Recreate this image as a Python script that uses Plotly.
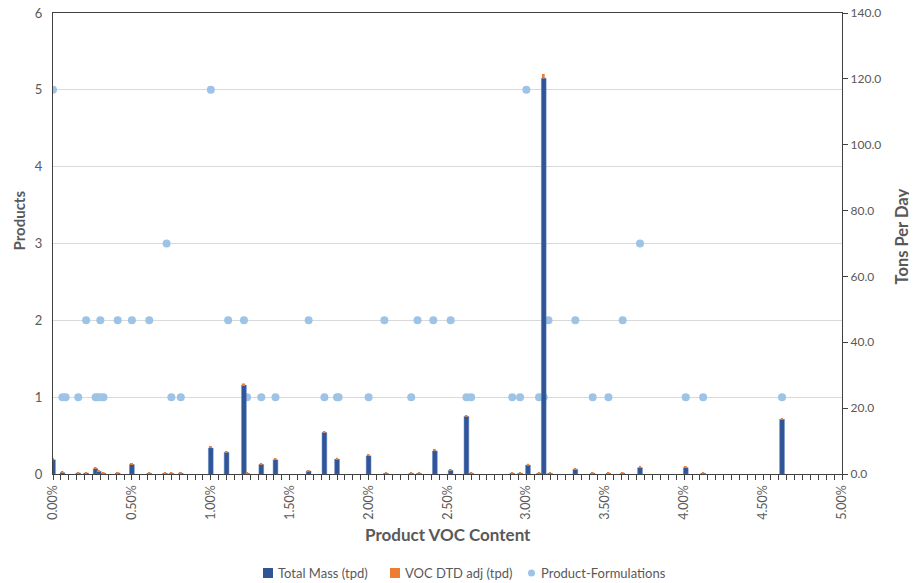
import plotly.graph_objects as go
from plotly.subplots import make_subplots

# Bar data: VOC content (%) and tons per day
bar_x = [0.00, 0.06, 0.16, 0.21, 0.27, 0.29, 0.32, 0.41, 0.50, 0.61, 0.71, 0.75, 0.81,
         1.00, 1.10, 1.21, 1.23, 1.32, 1.41, 1.62, 1.72, 1.80, 2.00, 2.11, 2.27, 2.32,
         2.42, 2.52, 2.62, 2.65, 2.91, 2.96, 3.01, 3.08, 3.11, 3.15, 3.31, 3.42, 3.52,
         3.61, 3.72, 4.01, 4.12, 4.62]
total_mass = [4.3, 0.4, 0.3, 0.3, 1.6, 0.8, 0.2, 0.3, 2.9, 0.2, 0.2, 0.2, 0.2,
              7.9, 6.6, 27.0, 0.2, 2.9, 4.3, 0.9, 12.6, 4.5, 5.5, 0.2, 0.2, 0.2,
              7.0, 1.1, 17.5, 0.2, 0.2, 0.2, 2.7, 0.2, 120.2, 0.2, 1.4, 0.2, 0.2,
              0.2, 1.9, 1.9, 0.2, 16.6]
voc_dtd = [0.3, 0.3, 0.3, 0.3, 0.4, 0.3, 0.3, 0.3, 0.4, 0.3, 0.3, 0.3, 0.3,
           0.4, 0.4, 0.5, 0.2, 0.4, 0.4, 0.3, 0.4, 0.4, 0.4, 0.3, 0.3, 0.3,
           0.4, 0.3, 0.4, 0.3, 0.3, 0.3, 0.4, 0.3, 1.3, 0.3, 0.4, 0.3, 0.3,
           0.3, 0.4, 0.4, 0.3, 0.4]

# Scatter data: product formulations count by VOC content (%)
pf_x = [0.00, 1.00, 3.00,
        0.72, 3.72,
        0.21, 0.30, 0.41, 0.50, 0.61, 1.11, 1.21, 1.62, 2.10, 2.31, 2.41, 2.52, 3.14, 3.31, 3.61,
        0.06, 0.08, 0.16, 0.27, 0.28, 0.30, 0.32, 0.75, 0.81, 1.23, 1.32, 1.41, 1.72, 1.80,
        1.81, 2.00, 2.27, 2.62, 2.65, 2.91, 2.96, 3.08, 3.11, 3.42, 3.52, 4.01, 4.12, 4.62]
pf_y = [5, 5, 5,
        3, 3,
        2, 2, 2, 2, 2, 2, 2, 2, 2, 2, 2, 2, 2, 2, 2,
        1, 1, 1, 1, 1, 1, 1, 1, 1, 1, 1, 1, 1, 1,
        1, 1, 1, 1, 1, 1, 1, 1, 1, 1, 1, 1, 1, 1]

x_ticks = [0.0, 0.5, 1.0, 1.5, 2.0, 2.5, 3.0, 3.5, 4.0, 4.5, 5.0]
left_ticks = [0, 1, 2, 3, 4, 5, 6]
right_ticks = [0, 20, 40, 60, 80, 100, 120, 140]

FONT = "Lato"
GRAY = "#595959"
AXIS = "#404040"
BLUE = "#2F5597"
ORANGE = "#ED7D31"
LIGHT = "#9DC3E6"

fig = make_subplots(specs=[[{"secondary_y": True}]])

fig.add_trace(go.Scatter(
    x=pf_x, y=pf_y, mode="markers", name="Product-Formulations",
    marker=dict(color=LIGHT, size=8),
), secondary_y=False)

fig.add_trace(go.Bar(
    x=bar_x, y=total_mass, name="Total Mass (tpd)", width=0.03,
    marker=dict(color=BLUE, line=dict(color="#5B7FC0", width=0.5)),
), secondary_y=True)

fig.add_trace(go.Bar(
    x=bar_x, y=voc_dtd, base=total_mass, name="VOC DTD adj (tpd)", width=0.012,
    marker=dict(color=ORANGE, line=dict(width=0)),
), secondary_y=True)

fig.update_layout(
    width=917, height=583,
    margin=dict(l=45, r=83, t=5, b=117, autoexpand=False),
    paper_bgcolor="white", plot_bgcolor="white",
    barmode="overlay",
    font=dict(family=FONT, color=GRAY, size=13),
    showlegend=False,
)

fig.update_xaxes(
    domain=[0, 1],
    range=[0, 5], tickvals=x_ticks, ticktext=[f"{v:.2f}%" for v in x_ticks],
    tickangle=-90, ticks="outside", ticklen=5, tickcolor=AXIS,
    minor=dict(dtick=0.05, ticks="outside", ticklen=5, tickcolor=AXIS, showgrid=False),
    showline=True, linecolor=AXIS, linewidth=1.3, mirror=True,
    showgrid=False, zeroline=False, automargin=False,
    tickfont=dict(size=12.5, color=GRAY), ticklabeloverflow="allow",
)

fig.update_yaxes(
    range=[0, 6], tickvals=left_ticks, ticks="outside", ticklen=7,
    tickcolor="rgba(0,0,0,0)", showline=True, linecolor=AXIS, linewidth=1.3,
    showgrid=True, gridcolor="#D9D9D9", gridwidth=1, zeroline=False, automargin=False,
    tickfont=dict(size=13, color=GRAY), ticklabeloverflow="allow",
    secondary_y=False,
)

fig.update_yaxes(
    range=[0, 140], tickvals=right_ticks, tickformat=".1f", ticks="outside", ticklen=5,
    tickcolor=AXIS, showline=True, linecolor=AXIS, linewidth=1.3,
    showgrid=False, zeroline=False, automargin=False,
    tickfont=dict(size=12, color=GRAY), ticklabeloverflow="allow",
    secondary_y=True,
)

fig.add_annotation(text="<b>Product VOC Content</b>", xref="paper", yref="paper",
                   x=0.5, y=0, yshift=-60, xanchor="center", yanchor="middle",
                   showarrow=False, font=dict(family=FONT, size=17, color=GRAY))
fig.add_annotation(text="<b>Products</b>", xref="paper", yref="paper",
                   x=0, y=0.5, xshift=-35, yshift=23, xanchor="center", yanchor="middle",
                   textangle=-90, showarrow=False, font=dict(family=FONT, size=15, color=GRAY))
fig.add_annotation(text="<b>Tons Per Day</b>", xref="paper", yref="paper",
                   x=1, y=0.5, xshift=59, yshift=7, xanchor="center", yanchor="middle",
                   textangle=-90, showarrow=False, font=dict(family=FONT, size=16.5, color=GRAY))

# Hand-drawn legend below the x-axis title
PW, PH, X0, Y0 = 789.0, 461.0, 53.0, 474.0  # plot area in screen px


def px_x(sx):
    return (sx - X0) / PW


def px_y(sy):
    return (Y0 - sy) / PH


legend_items = [
    ("square", BLUE, 263, 273, 276, "Total Mass (tpd)"),
    ("square", ORANGE, 390, 400, 403, "VOC DTD adj (tpd)"),
    ("circle", LIGHT, 528, 535, 539, "Product-Formulations"),
]
for kind, col, sx0, sx1, tx, label in legend_items:
    if kind == "square":
        fig.add_shape(type="rect", xref="paper", yref="paper",
                      x0=px_x(sx0), x1=px_x(sx1), y0=px_y(568), y1=px_y(578),
                      fillcolor=col, line=dict(width=0))
    else:
        fig.add_shape(type="circle", xref="paper", yref="paper",
                      x0=px_x(sx0), x1=px_x(sx1), y0=px_y(569.5), y1=px_y(576.5),
                      fillcolor=col, line=dict(width=0))
    fig.add_annotation(text=label, xref="paper", yref="paper",
                       x=px_x(tx), y=px_y(573), xanchor="left", yanchor="middle",
                       showarrow=False, font=dict(family=FONT, size=13, color=GRAY))

fig.write_html("out.html")
